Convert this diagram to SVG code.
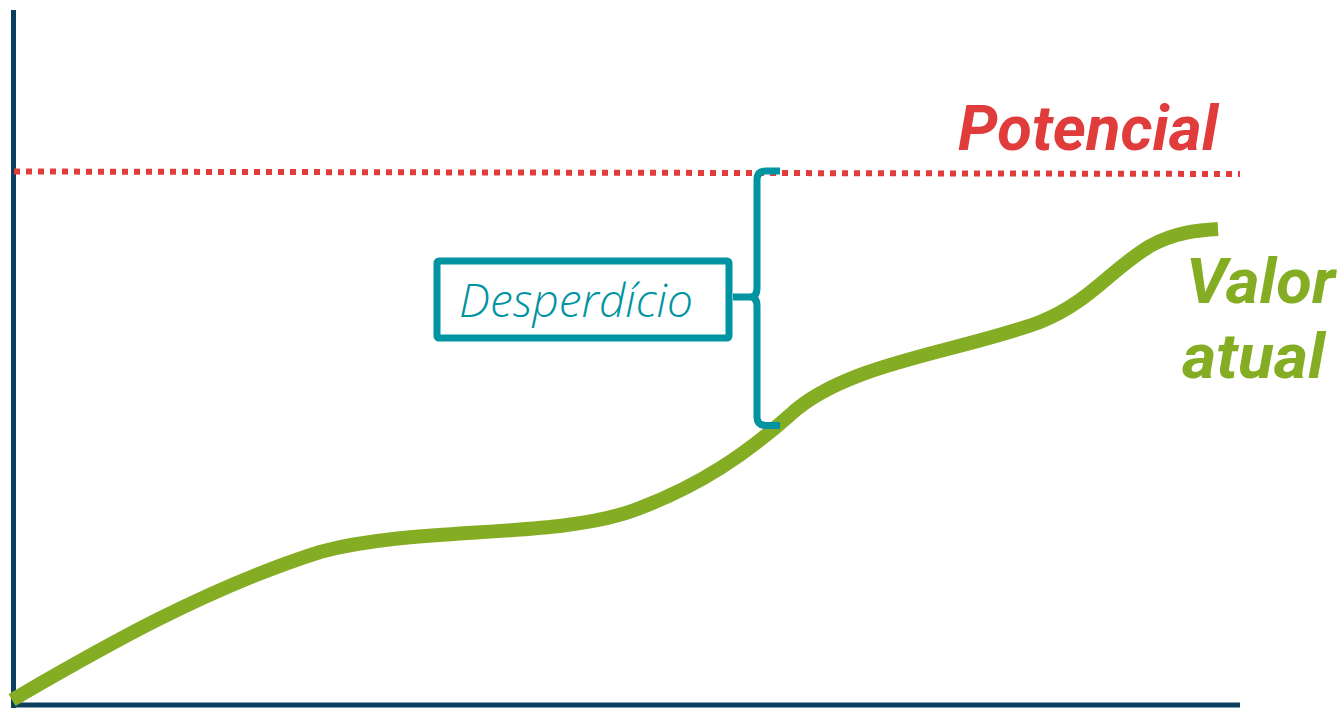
<svg xmlns="http://www.w3.org/2000/svg" width="1341" height="708" viewBox="0 0 1341 708">
<style>
.axis{stroke:#0c3f5f;stroke-width:5;fill:none}
.teal{stroke:#0093a1;fill:none}
.lbl{font-family:Roboto,"Liberation Sans",sans-serif;font-style:italic;font-weight:700}
</style>
<rect width="1341" height="708" fill="#fff"/>
<g id="axes">
<line class="axis" x1="13.5" y1="10" x2="13.5" y2="708"/>
<line class="axis" x1="11" y1="705" x2="1240" y2="705"/>
</g>
<g id="potential-line">
<line x1="14" y1="171.5" x2="1240" y2="174" stroke="#e03c3c" stroke-width="6" stroke-dasharray="6 6"/>
</g>
<g id="value-curve">
<path d="M12,700 C90,655 200,590 320,552 C420,525 560,540 640,508 C700,485 745,455 790,415 C845,363 960,352 1040,322 C1090,302 1110,270 1150,246 C1175,232 1200,230 1218,229" fill="none" stroke="#85ad24" stroke-width="14"/>
</g>
<g id="connectors">
<path class="teal" stroke-width="7" d="M780,171 L766,171 Q757,171 757,180 L757,288 Q757,297 750,297 L733,297 M750,297 Q757,297 757,306 L757,417 Q757,425.5 766,425.5 L780,425.5"/>
</g>
<g id="waste">
<rect class="teal" x="437" y="261" width="292" height="77" rx="2" stroke-width="7"/>
<text x="459" y="317" font-family="'Open Sans','Liberation Sans',sans-serif" font-style="italic" font-weight="300" font-size="46" fill="#0093a1" textLength="234" lengthAdjust="spacingAndGlyphs">Desperdício</text>
</g>
<g id="potencial">
<text class="lbl" x="958" y="150" font-size="62" fill="#e03c3c" textLength="260" lengthAdjust="spacingAndGlyphs">Potencial</text>
</g>
<g id="valor-atual">
<text class="lbl" x="1186" y="303" font-size="62" fill="#85ad24" textLength="149" lengthAdjust="spacingAndGlyphs">Valor</text>
<text class="lbl" x="1182" y="378" font-size="62" fill="#85ad24" textLength="143" lengthAdjust="spacingAndGlyphs">atual</text>
</g>
</svg>
